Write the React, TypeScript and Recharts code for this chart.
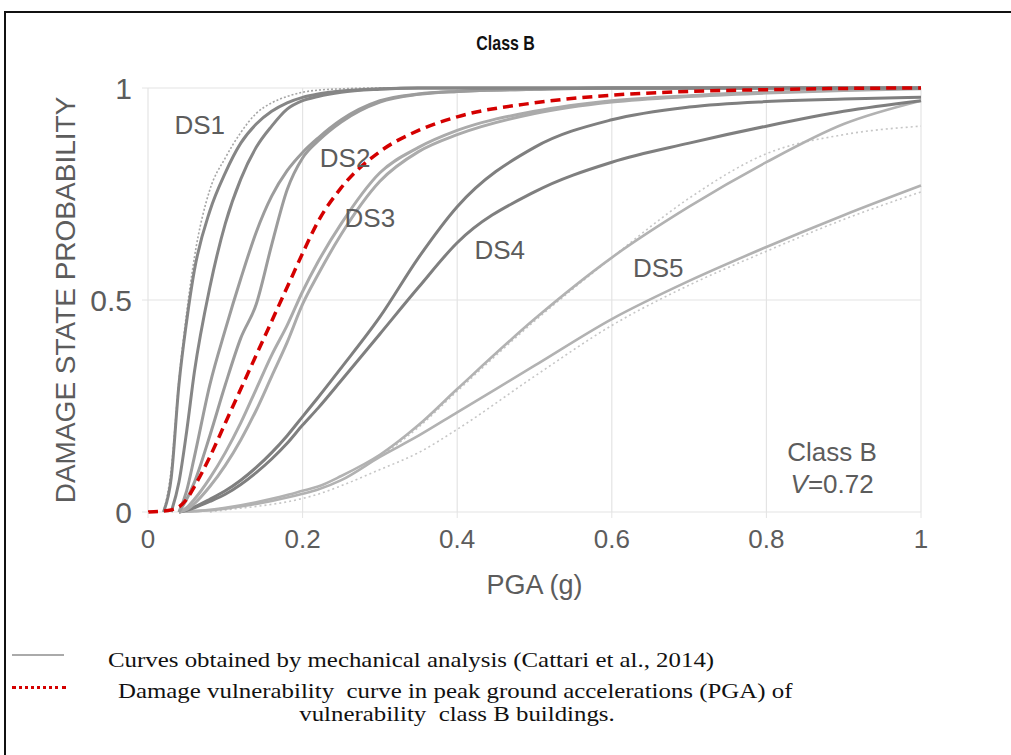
import React from 'react';
import { LineChart, Line, XAxis, YAxis, CartesianGrid, ReferenceDot } from 'recharts';

// PGA grid (g)
const pga = [0, 0.02, 0.03, 0.04, 0.05, 0.06, 0.08, 0.1, 0.12, 0.14, 0.16, 0.18, 0.2, 0.22, 0.25, 0.3, 0.35, 0.4, 0.5, 0.6, 0.7, 0.8, 0.9, 1];

// Mechanical-analysis curves (Cattari et al., 2014)
const ds1a = [null, 0, 0.08, 0.3, 0.45, 0.57, 0.71, 0.8, 0.87, 0.915, 0.945, 0.965, 0.978, 0.986, 0.993, 0.998, 1, 1, 1, 1, 1, 1, 1, 1];
const ds1Dot = [null, 0, 0.1, 0.31, 0.47, 0.6, 0.76, 0.835, 0.895, 0.94, 0.965, 0.98, 0.99, 0.995, 0.998, 1, 1, 1, 1, 1, 1, 1, 1, 1];
const ds1b = [null, null, 0, 0.07, 0.19, 0.33, 0.53, 0.68, 0.785, 0.86, 0.91, 0.95, 0.97, 0.98, 0.99, 0.997, 1, 1, 1, 1, 1, 1, 1, 1];
const ds2a = [null, null, null, 0, 0.05, 0.13, 0.3, 0.43, 0.55, 0.66, 0.745, 0.805, 0.848, 0.882, 0.925, 0.97, 0.986, 0.992, 0.997, 1, 1, 1, 1, 1];
const ds2b = [null, null, null, 0, 0.03, 0.07, 0.18, 0.3, 0.41, 0.49, 0.63, 0.76, 0.835, 0.875, 0.92, 0.967, 0.985, 0.992, 0.997, 1, 1, 1, 1, 1];
const ds3a = [null, null, null, 0, 0.01, 0.03, 0.08, 0.14, 0.21, 0.29, 0.37, 0.44, 0.52, 0.59, 0.68, 0.8, 0.86, 0.9, 0.945, 0.97, 0.982, 0.99, 0.995, 1];
const ds3b = [null, null, null, 0, 0.006, 0.02, 0.06, 0.11, 0.17, 0.24, 0.32, 0.4, 0.49, 0.56, 0.655, 0.78, 0.85, 0.89, 0.94, 0.967, 0.98, 0.988, 0.994, 0.998];
const ds4a = [null, null, null, 0, 0.005, 0.012, 0.03, 0.05, 0.075, 0.105, 0.14, 0.18, 0.225, 0.27, 0.34, 0.46, 0.6, 0.72, 0.86, 0.925, 0.955, 0.968, 0.974, 0.978];
const ds4b = [null, null, null, 0, 0.004, 0.01, 0.025, 0.042, 0.065, 0.093, 0.125, 0.162, 0.205, 0.245, 0.31, 0.42, 0.53, 0.635, 0.755, 0.825, 0.87, 0.91, 0.945, 0.97];
const ds5a = [null, null, null, 0, 0.001, 0.002, 0.005, 0.01, 0.016, 0.023, 0.031, 0.04, 0.05, 0.06, 0.085, 0.135, 0.205, 0.29, 0.455, 0.6, 0.72, 0.825, 0.915, 0.97];
const ds5b = [null, null, null, 0, 0.001, 0.002, 0.004, 0.008, 0.013, 0.019, 0.026, 0.034, 0.043, 0.053, 0.075, 0.13, 0.18, 0.235, 0.345, 0.455, 0.545, 0.625, 0.7, 0.77];
const ds5DotLow = [null, null, null, null, null, null, 0, 0.005, 0.009, 0.013, 0.018, 0.024, 0.032, 0.042, 0.062, 0.1, 0.14, 0.195, 0.32, 0.44, 0.535, 0.615, 0.69, 0.755];
const ds5DotHigh = [null, null, null, null, null, null, null, null, null, null, null, null, null, null, null, 0.13, 0.2, 0.285, 0.45, 0.6, 0.74, 0.845, 0.89, 0.91];

// Damage vulnerability curve, class B
const classB = [0, 0.002, 0.005, 0.012, 0.03, 0.06, 0.13, 0.21, 0.29, 0.37, 0.45, 0.53, 0.61, 0.685, 0.765, 0.85, 0.9, 0.932, 0.965, 0.983, 0.992, 0.996, 0.999, 1];

const xTicks = [0, 0.2, 0.4, 0.6, 0.8, 1];
const yTicks = [0, 0.5, 1];

const dsLabels = [
  { name: 'DS1', x: 0.067, y: 0.913 },
  { name: 'DS2', x: 0.255, y: 0.835 },
  { name: 'DS3', x: 0.287, y: 0.693 },
  { name: 'DS4', x: 0.455, y: 0.618 },
  { name: 'DS5', x: 0.66, y: 0.575 },
];

const data = pga.map((x, i) => ({
  x,
  ds1a: ds1a[i], ds1Dot: ds1Dot[i], ds1b: ds1b[i],
  ds2a: ds2a[i], ds2b: ds2b[i],
  ds3a: ds3a[i], ds3b: ds3b[i],
  ds4a: ds4a[i], ds4b: ds4b[i],
  ds5a: ds5a[i], ds5b: ds5b[i],
  ds5DotLow: ds5DotLow[i], ds5DotHigh: ds5DotHigh[i],
  classB: classB[i],
}));

const SANS = "'Liberation Sans', Arial, sans-serif";
const SERIF = "'Liberation Serif', 'Times New Roman', serif";
const TXT = '#5c5c5c';

const series = [
  { key: 'ds5DotHigh', color: '#c6c6c6', w: 1.6, dash: '2 3' },
  { key: 'ds5DotLow', color: '#c6c6c6', w: 1.6, dash: '2 3' },
  { key: 'ds5a', color: '#b2b2b2', w: 2.6 },
  { key: 'ds5b', color: '#b2b2b2', w: 2.6 },
  { key: 'ds4a', color: '#7f7f7f', w: 3 },
  { key: 'ds4b', color: '#7f7f7f', w: 3 },
  { key: 'ds3a', color: '#ababab', w: 3 },
  { key: 'ds3b', color: '#ababab', w: 3 },
  { key: 'ds2a', color: '#9c9c9c', w: 3 },
  { key: 'ds2b', color: '#9c9c9c', w: 3 },
  { key: 'ds1Dot', color: '#a6a6a6', w: 1.6, dash: '2 2' },
  { key: 'ds1a', color: '#868686', w: 3 },
  { key: 'ds1b', color: '#868686', w: 3 },
];

const ClassText = (props: any) => {
  const vb = props.viewBox || {};
  const cx = vb.x + (vb.width || 0) / 2;
  const cy = vb.y + (vb.height || 0) / 2;
  return (
    <g>
      <text x={cx} y={cy - 16} textAnchor="middle" dominantBaseline="central" fontSize={26} fontFamily={SANS} fill={TXT}>Class B</text>
      <text x={cx} y={cy + 16} textAnchor="middle" dominantBaseline="central" fontSize={26} fontFamily={SANS} fill={TXT}>
        <tspan fontStyle="italic">V</tspan>=0.72
      </text>
    </g>
  );
};

const legendText: React.CSSProperties = {
  position: 'absolute',
  fontFamily: SERIF,
  fontSize: 22,
  lineHeight: '22px',
  color: '#111',
  whiteSpace: 'nowrap',
};

export default function App() {
  return (
    <div style={{ position: 'absolute', left: 0, top: 0, width: 1011, height: 755, background: '#fff', overflow: 'hidden' }}>
      {/* frame */}
      <div style={{ position: 'absolute', left: 4, top: 11, right: 0, height: 2, background: '#111' }} />
      <div style={{ position: 'absolute', left: 4, top: 11, width: 2, bottom: 0, background: '#111' }} />
      {/* title */}
      <div style={{ position: 'absolute', left: 0, width: 1011, top: 31, textAlign: 'center', fontFamily: SANS, fontWeight: 'bold', fontSize: 21, lineHeight: '24px', color: '#111', transform: 'scaleX(0.76)', transformOrigin: '506px 0' }}>
        Class B
      </div>
      <div style={{ position: 'absolute', left: 0, top: 0 }}>
        <LineChart width={1011} height={755} data={data} margin={{ top: 88, right: 90, left: 38, bottom: 143 }}>
          <CartesianGrid stroke="#e4e4e4" strokeWidth={1.2} />
          <XAxis
            dataKey="x"
            type="number"
            domain={[0, 1]}
            ticks={xTicks}
            axisLine={false}
            tickLine={{ stroke: '#e4e4e4' }}
            tickSize={6}
            tickMargin={12}
            height={100}
            tick={{ fontSize: 26, fontFamily: SANS, fill: TXT }}
            label={{ value: 'PGA (g)', position: 'insideBottom', offset: 18, style: { fontSize: 27, fontFamily: SANS, fill: TXT } }}
          />
          <YAxis
            type="number"
            domain={[0, 1]}
            ticks={yTicks}
            axisLine={false}
            tickLine={{ stroke: '#e4e4e4' }}
            tickSize={6}
            tickMargin={10}
            width={110}
            tick={{ fontSize: 30, fontFamily: SANS, fill: TXT }}
            label={{ value: 'DAMAGE STATE PROBABILITY', angle: -90, position: 'insideLeft', offset: 27, style: { fontSize: 28, fontFamily: SANS, fill: TXT, textAnchor: 'middle' } }}
          />
          {series.map((s) => (
            <Line
              key={s.key}
              dataKey={s.key}
              type="monotone"
              stroke={s.color}
              strokeWidth={s.w}
              strokeDasharray={s.dash}
              dot={false}
              activeDot={false}
              isAnimationActive={false}
            />
          ))}
          <Line
            dataKey="classB"
            type="monotone"
            stroke="#d40000"
            strokeWidth={3.5}
            strokeDasharray="10 6"
            dot={false}
            activeDot={false}
            isAnimationActive={false}
          />
          {dsLabels.map((d) => (
            <ReferenceDot
              key={d.name}
              x={d.x}
              y={d.y}
              r={0}
              stroke="none"
              fill="none"
              label={{ value: d.name, position: 'center', fontSize: 26, fontFamily: SANS, fill: TXT }}
            />
          ))}
          <ReferenceDot x={0.885} y={0.104} r={0} stroke="none" fill="none" label={<ClassText />} />
        </LineChart>
      </div>
      {/* legend */}
      <div style={{ position: 'absolute', left: 12, top: 654, width: 52, height: 2, background: '#aaaaaa' }} />
      <div style={{ ...legendText, left: 108, top: 649, transform: 'scaleX(1.13)', transformOrigin: '0 0' }}>
        Curves obtained by mechanical analysis (Cattari et al., 2014)
      </div>
      <div style={{ position: 'absolute', left: 12, top: 686, width: 54, height: 0, borderTop: '3px dotted #d40000' }} />
      <div style={{ ...legendText, left: 118, top: 680, transform: 'scaleX(1.13)', transformOrigin: '0 0' }}>
        Damage vulnerability&nbsp; curve in peak ground accelerations (PGA) of
      </div>
      <div style={{ ...legendText, left: 0, width: 914, top: 703, textAlign: 'center', transform: 'scaleX(1.13)', transformOrigin: '457px 0' }}>
        vulnerability&nbsp; class B buildings.
      </div>
    </div>
  );
}
